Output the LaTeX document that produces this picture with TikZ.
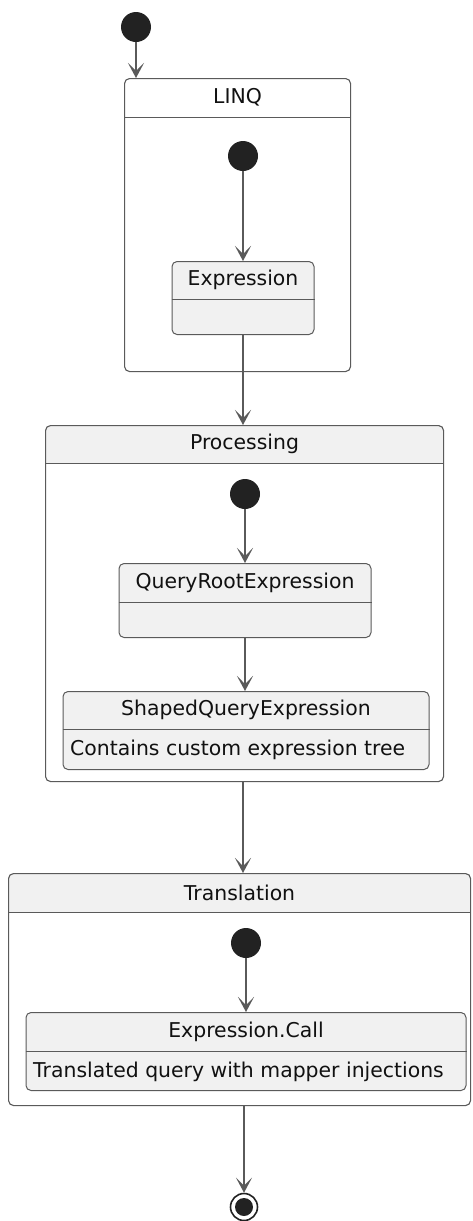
\documentclass[tikz,border=0pt]{standalone}
\usepackage{fontspec}
\setmainfont{DejaVu Sans}
\usetikzlibrary{arrows.meta, positioning, calc, backgrounds}
\definecolor{umlfill}{HTML}{F1F1F1}
\definecolor{umlline}{HTML}{5A5A5A}
\definecolor{umldot}{HTML}{222222}
\definecolor{umltext}{HTML}{111111}

\begin{document}
\begin{tikzpicture}[
    x=1pt, y=-1pt,
    comp/.style={rectangle, rounded corners=5pt, draw=umlline, line width=1.1pt, inner sep=0pt},
    statebox/.style={rectangle, rounded corners=5pt, draw=umlline, line width=1pt,
                     fill=umlfill, inner sep=0pt},
    title/.style={inner sep=0pt, minimum height=38pt, text=umltext,
                  font=\fontsize{20.4}{24}\selectfont},
    bodytxt/.style={anchor=north west, inner xsep=7.5pt, inner ysep=0pt, minimum height=40pt,
                    text=umltext, font=\fontsize{20.4}{24}\selectfont},
    sep/.style={draw=umlline, line width=1pt},
    dot/.style={circle, fill=umldot, minimum size=30pt, inner sep=0pt},
    arr/.style={-{Stealth[length=15pt, width=16pt, inset=8pt]}, umlline, line width=1.5pt},
]
    \useasboundingbox (0,0) rectangle (472,1221);

    % LINQ
    \node[dot] (init) at (136,27) {};
    \node[comp, anchor=north west, minimum width=226pt, minimum height=293pt] (linq) at (124,78) {};
    \node[title, minimum height=39pt, below=0pt of linq.north] (linqT) {LINQ};
    \draw[sep] (linqT.south -| linq.west) -- (linqT.south -| linq.east);
    \node[dot] (linqS) at (243,156) {};
    \node[statebox, anchor=north, minimum width=142pt, minimum height=73pt] (expr) at (243,261) {};
    \node[title, below=0pt of expr.north] (exprT) {Expression};
    \draw[sep] (exprT.south -| expr.west) -- (exprT.south -| expr.east);

    % Processing
    \node[comp, anchor=north west, minimum width=398pt, minimum height=356pt] (proc) at (45,425) {};
    \node[title, below=0pt of proc.north] (procT) {Processing};
    \draw[sep] (procT.south -| proc.west) -- (procT.south -| proc.east);
    \node[dot] (procS) at (245,494) {};
    \node[statebox, anchor=north, minimum width=252pt, minimum height=74pt] (qre) at (245,563) {};
    \node[title, minimum height=39pt, below=0pt of qre.north] (qreT) {QueryRootExpression};
    \draw[sep] (qreT.south -| qre.west) -- (qreT.south -| qre.east);
    \node[statebox, anchor=north, minimum width=366pt, minimum height=78pt] (sqe) at (246,691) {};
    \node[title, below=0pt of sqe.north] (sqeT) {ShapedQueryExpression};
    \draw[sep] (sqeT.south -| sqe.west) -- (sqeT.south -| sqe.east);
    \node[bodytxt] (sqeB) at (sqeT.south -| sqe.west) {Contains custom expression tree};

    % Translation
    \node[comp, anchor=north west, minimum width=462pt, minimum height=232pt] (tr) at (8,873) {};
    \node[title, minimum height=39pt, below=0pt of tr.north] (trT) {Translation};
    \draw[sep] (trT.south -| tr.west) -- (trT.south -| tr.east);
    \node[dot] (trS) at (246,943) {};
    \node[statebox, anchor=north, minimum width=440pt, minimum height=78pt] (ec) at (246,1012) {};
    \node[title, minimum height=39pt, below=0pt of ec.north] (ecT) {Expression.Call};
    \draw[sep] (ecT.south -| ec.west) -- (ecT.south -| ec.east);
    \node[bodytxt] (ecB) at (ecT.south -| ec.west) {Translated query with mapper injections};

    % final state
    \node[circle, draw=umldot, line width=1.6pt, minimum size=27pt, inner sep=0pt] (final) at (244,1207) {};
    \node[dot, minimum size=18pt] (finalC) at (final) {};

    % grey headers
    \begin{scope}[on background layer]
        \begin{scope}
            \clip[rounded corners=5pt] (proc.north west) rectangle (proc.south east);
            \fill[umlfill] (proc.north west) rectangle (procT.south -| proc.east);
        \end{scope}
        \begin{scope}
            \clip[rounded corners=5pt] (tr.north west) rectangle (tr.south east);
            \fill[umlfill] (tr.north west) rectangle (trT.south -| tr.east);
        \end{scope}
    \end{scope}

    \draw[arr] (init) -- (init |- linq.north);
    \draw[arr] (linqS) -- (expr.north);
    \draw[arr] (expr.south) -- (expr.south |- proc.north);
    \draw[arr] (procS) -- (qre.north);
    \draw[arr] (qre.south) -- (qre.south |- sqe.north);
    \draw[arr] (proc.south -| expr.south) -- (expr.south |- tr.north);
    \draw[arr] (trS) -- (ec.north);
    \draw[arr] (final |- tr.south) -- (final);
\end{tikzpicture}
\end{document}
